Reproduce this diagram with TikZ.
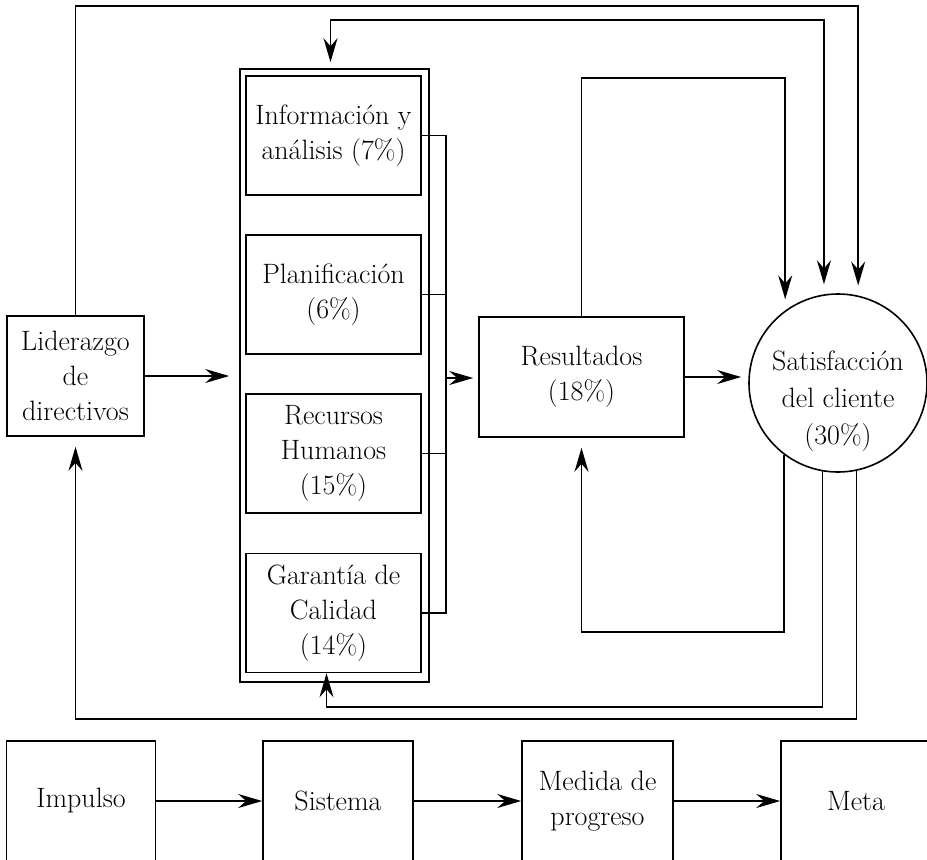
\documentclass[tikz,border=0pt]{standalone}
\usepackage{fontspec}
\usepackage{tikz}
\usetikzlibrary{arrows.meta}

\begin{document}
\begin{tikzpicture}[x=1pt,y=-1pt,
    caja/.style={draw,line width=1.6pt,align=center,inner sep=0pt,font=\fontsize{28}{35}\selectfont},
    linea/.style={line width=1.6pt},
    flecha/.style={line width=1.6pt,-{Stealth[length=24pt,width=14pt,inset=8pt]}},
    flechas/.style={line width=1.6pt,{Stealth[length=24pt,width=14pt,inset=8pt]}-{Stealth[length=24pt,width=14pt,inset=8pt]}}]
    \useasboundingbox (0,0) rectangle (927,860);
    \clip (0,0) rectangle (927,860);
    \node[caja,minimum width=137,minimum height=120] (lid) at (75.5,376) {Liderazgo\\de\\directivos};
    \node[caja,minimum width=189,minimum height=613] (pil) at (334.5,375.5) {};
    \node[caja,minimum width=175,minimum height=119] (info) at (333.5,135.5) {Información y\\análisis (7\%)};
    \node[caja,minimum width=175,minimum height=119] (plan) at (333.5,294.5) {Planificación\\(6\%)};
    \node[caja,minimum width=175,minimum height=119] (rec) at (333.5,453.5) {Recursos\\Humanos\\(15\%)};
    \node[caja,minimum width=175,minimum height=119] (gar) at (333.5,613) {Garantía de\\Calidad\\(14\%)};
    \node[caja,minimum width=205,minimum height=120] (res) at (581.5,377) {Resultados\\(18\%)};
    \node[caja,circle,minimum size=178] (sat) at (838,383) {};
    \node[align=center,font=\fontsize{28}{37}\selectfont] (sattxt) at (838,401) {Satisfacción\\del cliente\\(30\%)};
    \coordinate (brk) at (446,378);

    \draw[linea] (info.east) -| (brk) (gar.east) -| (brk);
    \draw[linea] (plan.east) -- (plan.east -| brk) (rec.east) -- (rec.east -| brk);
    \draw[flecha,shorten >=5] (brk) -- (brk -| res.west);
    \draw[flecha,shorten >=10] (lid.east) -- (lid.east -| pil.west);
    \draw[flecha,shorten >=7] (res.east) -- (res.east -| sat.west);

    \draw[flecha,shorten >=10] (lid.north) -- ++(0,-309) -| (sat.77.7);
    \draw[flechas,shorten <=6,shorten >=10] ([xshift=-4]pil.north) -- ++(0,-48) -| (sat.99.7);
    \draw[flecha,shorten >=11] (res.north) -- ++(0,-238) -| (sat.126.5);
    \draw[flecha,shorten >=10] (sat.233.5) -- ++(0,177.5) -| (res.south);
    \draw[flecha] (sat.260.3) -- ++(0,235.3) -| ([xshift=-7]gar.south);
    \draw[flecha,shorten >=10] (sat.282.3) -- ++(0,248) -| (lid.south);

    \node[caja,minimum width=149,minimum height=120] (imp) at (81,801) {Impulso};
    \node[caja,minimum width=150,minimum height=120] (sis) at (338,801) {Sistema};
    \node[caja,minimum width=151,minimum height=120] (med) at (597.5,801) {Medida de\\progreso};
    \node[caja,minimum width=150,minimum height=120] (meta) at (856,801) {Meta};
    \draw[flecha] (imp.east) -- (sis.west);
    \draw[flecha] (sis.east) -- (med.west);
    \draw[flecha] (med.east) -- (meta.west);
\end{tikzpicture}
\end{document}
